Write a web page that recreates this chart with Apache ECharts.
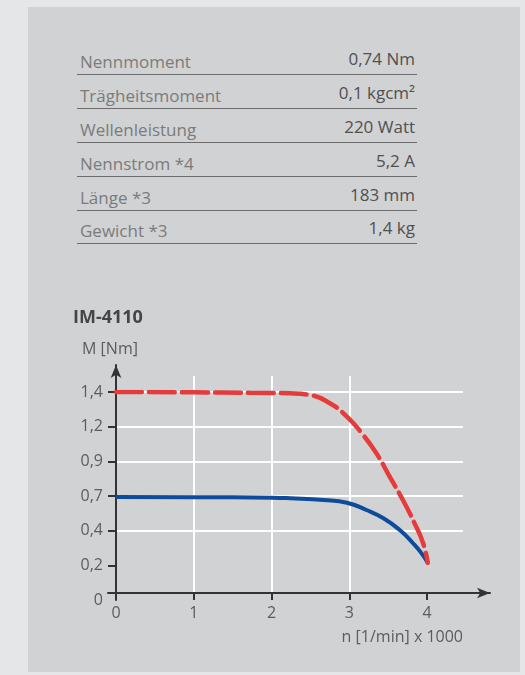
<!DOCTYPE html>
<html>
<head>
<meta charset="utf-8">
<script src="https://cdn.jsdelivr.net/npm/echarts@6/dist/echarts.min.js"></script>
<style>
  html, body { margin: 0; padding: 0; }
  body { width: 525px; height: 675px; background: #e5e6e8; position: relative; overflow: hidden; font-family: 'Open Sans', sans-serif; }
  #panel { position: absolute; left: 28px; top: 7px; width: 492px; height: 665px; background: #d1d2d4; }
  .row { position: absolute; left: 77px; width: 340px; height: 34px; border-bottom: 1px solid #6c6c6c; }
  .row .lbl { position: absolute; left: 3px; top: 12px; line-height: 20px; font-size: 17px; color: #7b7b7b; }
  .row .val { position: absolute; right: 2px; top: 9px; line-height: 20px; font-size: 17px; color: #505050; }
  #chart { position: absolute; left: 0; top: 0; width: 525px; height: 675px; }
</style>
</head>
<body>
<div id="panel"></div>
<div id="specs"></div>
<div id="chart"></div>
<script>
// Datenblatt-Tabelle
const specLabels = ['Nennmoment', 'Trägheitsmoment', 'Wellenleistung', 'Nennstrom *4', 'Länge *3', 'Gewicht *3'];
const specValues = ['0,74 Nm', '0,1 kgcm²', '220 Watt', '5,2 A', '183 mm', '1,4 kg'];

// Achsenbeschriftung
const xTickLabels = ['0', '1', '2', '3', '4'];
const yTickLabels = ['0', '0,2', '0,4', '0,7', '0,9', '1,2', '1,4'];

// Kennlinien [n x 1000, M]
const dauerKurve = [[0, 0.693], [1, 0.692], [2, 0.689], [2.24, 0.685], [2.67, 0.673], [2.97, 0.655], [3.22, 0.606], [3.44, 0.55], [3.65, 0.471], [3.82, 0.382], [3.93, 0.314], [4.01, 0.25]];
const spitzeKurve = [[0, 1.40], [1, 1.398], [1.72, 1.395], [2.24, 1.391], [2.49, 1.38], [2.75, 1.324], [2.97, 1.234], [3.18, 1.11], [3.35, 0.987], [3.52, 0.83], [3.69, 0.673], [3.84, 0.516], [3.95, 0.382], [4.01, 0.25]];

const Y_MAX = 1.4;
const X_MAX = 4.463;
const yStep = Y_MAX / (yTickLabels.length - 1);
const yTickValues = yTickLabels.map((_, i) => i * yStep);
const xTickValues = xTickLabels.map(Number);

// Tabelle aufbauen
const specs = document.getElementById('specs');
const rowLines = [74, 108, 142, 176, 210, 243];
specLabels.forEach((label, i) => {
  const row = document.createElement('div');
  row.className = 'row';
  row.style.top = (rowLines[i] - 34) + 'px';
  row.innerHTML = `<span class="lbl">${label}</span><span class="val">${specValues[i]}</span>`;
  specs.appendChild(row);
});

const AXIS = '#333333';
const FONT = 'Open Sans';
const hidden = { show: false };

const chart = echarts.init(document.getElementById('chart'));
chart.setOption({
  backgroundColor: 'transparent',
  animation: false,
  title: {
    text: 'IM-4110',
    left: 68,
    top: 304,
    textStyle: { fontFamily: FONT, fontSize: 18, fontWeight: 'bold', color: '#454545' }
  },
  grid: [
    { left: 116, top: 392, width: 347, height: 208 },  // Daten + waagerechte Linien
    { left: 116, top: 376, width: 347, height: 217 },  // senkrechte Linien + x-Beschriftung
    { left: 108, top: 365, width: 382, height: 228 },  // x-Achse mit Pfeil
    { left: 116, top: 365, width: 374, height: 235 }   // y-Achse mit Pfeil
  ],
  xAxis: [
    { gridIndex: 0, type: 'value', min: 0, max: X_MAX, show: false },
    {
      gridIndex: 1, type: 'value', min: 0, max: X_MAX, interval: 1,
      axisLine: { show: false },
      axisTick: { show: true, length: 7, customValues: xTickValues, lineStyle: { color: AXIS, width: 2 } },
      axisLabel: {
        customValues: xTickValues, margin: 12,
        fontFamily: FONT, fontSize: 16, color: '#5c5c5c',
        formatter: v => xTickLabels[Math.round(v)]
      },
      splitLine: { show: true, showMinLine: false, showMaxLine: false, lineStyle: { color: '#ffffff', width: 2 } },
      name: 'n [1/min] x 1000',
      nameLocation: 'end',
      nameGap: 0,
      nameTextStyle: { fontFamily: FONT, fontSize: 16, color: '#5c5c5c', align: 'right', verticalAlign: 'top', padding: [36, 0, 0, 0] }
    },
    {
      gridIndex: 2, type: 'value', min: 0, max: 1,
      axisLine: { show: true, symbol: ['none', 'arrow'], symbolSize: [8, 13], lineStyle: { color: AXIS, width: 2 } },
      axisTick: hidden, axisLabel: hidden, splitLine: hidden
    },
    { gridIndex: 3, type: 'value', min: 0, max: 1, show: false }
  ],
  yAxis: [
    {
      gridIndex: 0, type: 'value', min: 0, max: Y_MAX, interval: yStep,
      axisLine: { show: false },
      axisTick: { show: true, length: 8, customValues: yTickValues.slice(1), lineStyle: { color: AXIS, width: 2 } },
      axisLabel: {
        customValues: yTickValues, margin: 13,
        fontFamily: FONT, fontSize: 16, color: '#5c5c5c',
        formatter: v => yTickLabels[Math.round(v / yStep)]
      },
      splitLine: { show: true, showMinLine: false, lineStyle: { color: '#ffffff', width: 2 } }
    },
    { gridIndex: 1, type: 'value', min: 0, max: 1, show: false },
    { gridIndex: 2, type: 'value', min: 0, max: 1, show: false },
    {
      gridIndex: 3, type: 'value', min: 0, max: 1,
      axisLine: { show: true, symbol: ['none', 'arrow'], symbolSize: [8, 13], lineStyle: { color: AXIS, width: 2 } },
      axisTick: hidden, axisLabel: hidden, splitLine: hidden,
      name: 'M [Nm]',
      nameLocation: 'end',
      nameGap: 8,
      nameTextStyle: { fontFamily: FONT, fontSize: 16, color: '#5c5c5c', padding: [0, 12, 0, 0] }
    }
  ],
  series: [
    {
      name: 'Dauer',
      type: 'line',
      xAxisIndex: 0, yAxisIndex: 0,
      data: dauerKurve,
      smooth: 0.5,
      showSymbol: false,
      lineStyle: { color: '#0f4b9b', width: 4 }
    },
    {
      name: 'Spitze',
      type: 'line',
      xAxisIndex: 0, yAxisIndex: 0,
      data: spitzeKurve,
      smooth: 0.5,
      showSymbol: false,
      lineStyle: { color: '#e53b3b', width: 4.5, type: [26, 7], cap: 'round' }
    }
  ]
});
</script>
</body>
</html>
